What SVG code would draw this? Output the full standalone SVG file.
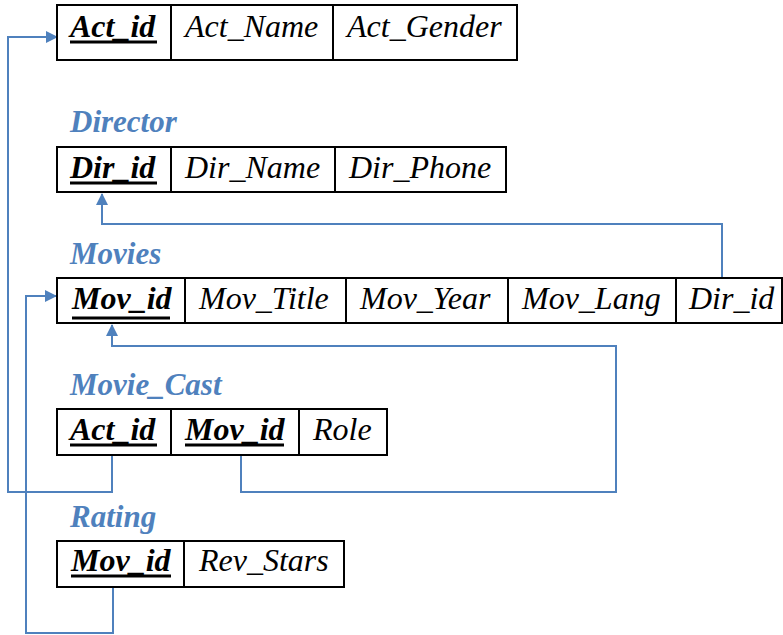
<svg xmlns="http://www.w3.org/2000/svg" width="783" height="635" viewBox="0 0 783 635">
<style>
.tbl{fill:#fff;stroke:#000;stroke-width:2}
.div{stroke:#000;stroke-width:2}
.cell{font-family:"Liberation Serif","Times New Roman",serif;font-style:italic;font-size:32px;fill:#000}
.key{font-weight:bold}
.ul{stroke:#000;stroke-width:3}
.title{font-family:"Liberation Serif","Times New Roman",serif;font-style:italic;font-weight:bold;font-size:31px;fill:#4F81BD}
.conn{fill:none;stroke:#4F81BD;stroke-width:2}
</style>
<defs>
<marker id="arr" markerUnits="userSpaceOnUse" markerWidth="12" markerHeight="12" viewBox="0 0 12 12" refX="11" refY="6" orient="auto">
<path d="M0,0 L12,6 L0,12 Z" fill="#4F81BD"/>
</marker>
</defs>
<rect width="783" height="635" fill="#fff"/>
<g id="connectors">
<path class="conn" d="M112,455 V492 H8 V37 H57" marker-end="url(#arr)"/>
<path class="conn" d="M722,278 V224 H102 V194" marker-end="url(#arr)"/>
<path class="conn" d="M241,455 V492 H616 V346 H112 V325" marker-end="url(#arr)"/>
<path class="conn" d="M113,587 V633 H26 V296 H56" marker-end="url(#arr)"/>
</g>
<g id="actor">
<rect class="tbl" x="57" y="5" width="460" height="55"/>
<line class="div" x1="171" y1="5" x2="171" y2="60"/>
<line class="div" x1="333" y1="5" x2="333" y2="60"/>
<text class="cell key" x="70" y="37">Act_id</text>
<line class="ul" x1="70" y1="42" x2="157" y2="42"/>
<text class="cell" x="185" y="37">Act_Name</text>
<text class="cell" x="347" y="37">Act_Gender</text>
</g>
<g id="director">
<text class="title" x="70" y="132">Director</text>
<rect class="tbl" x="57" y="147" width="449" height="45"/>
<line class="div" x1="171" y1="147" x2="171" y2="192"/>
<line class="div" x1="335" y1="147" x2="335" y2="192"/>
<text class="cell key" x="70" y="178">Dir_id</text>
<line class="ul" x1="70" y1="183" x2="157" y2="183"/>
<text class="cell" x="185" y="178">Dir_Name</text>
<text class="cell" x="349" y="178">Dir_Phone</text>
</g>
<g id="movies">
<text class="title" x="70" y="264">Movies</text>
<rect class="tbl" x="57" y="278" width="725" height="45"/>
<line class="div" x1="185" y1="278" x2="185" y2="323"/>
<line class="div" x1="346" y1="278" x2="346" y2="323"/>
<line class="div" x1="508" y1="278" x2="508" y2="323"/>
<line class="div" x1="676" y1="278" x2="676" y2="323"/>
<text class="cell key" x="72" y="309">Mov_id</text>
<line class="ul" x1="72" y1="318" x2="170" y2="318"/>
<text class="cell" x="199" y="309">Mov_Title</text>
<text class="cell" x="360" y="309">Mov_Year</text>
<text class="cell" x="522" y="309">Mov_Lang</text>
<text class="cell" x="689" y="309">Dir_id</text>
</g>
<g id="movie_cast">
<text class="title" x="70" y="395">Movie_Cast</text>
<rect class="tbl" x="57" y="409" width="330" height="46"/>
<line class="div" x1="171" y1="409" x2="171" y2="455"/>
<line class="div" x1="299" y1="409" x2="299" y2="455"/>
<text class="cell key" x="70" y="440">Act_id</text>
<line class="ul" x1="70" y1="445" x2="157" y2="445"/>
<text class="cell key" x="185" y="440">Mov_id</text>
<line class="ul" x1="185" y1="445" x2="284" y2="445"/>
<text class="cell" x="313" y="440">Role</text>
</g>
<g id="rating">
<text class="title" x="70" y="527">Rating</text>
<rect class="tbl" x="57" y="541" width="287" height="46"/>
<line class="div" x1="184" y1="541" x2="184" y2="587"/>
<text class="cell key" x="71" y="571">Mov_id</text>
<line class="ul" x1="71" y1="576" x2="171" y2="576"/>
<text class="cell" x="199" y="571">Rev_Stars</text>
</g>
</svg>
